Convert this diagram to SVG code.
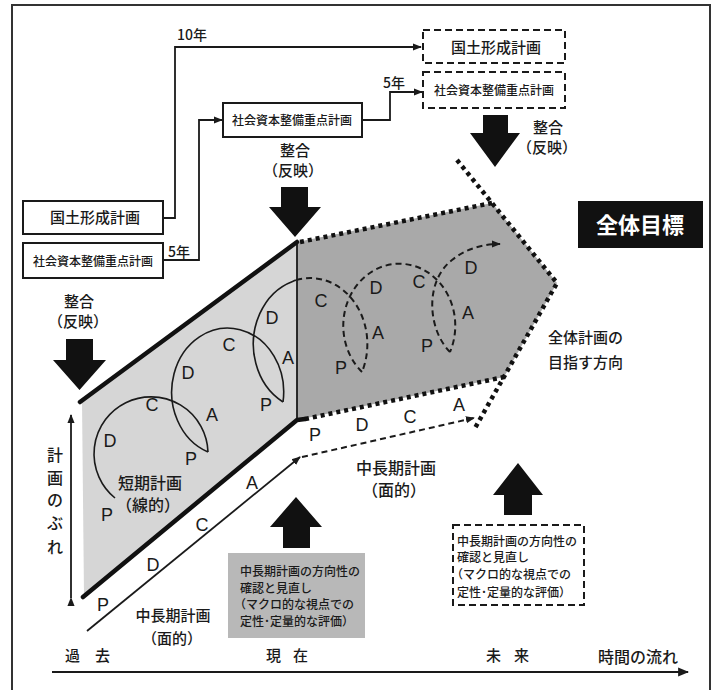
<svg xmlns="http://www.w3.org/2000/svg" width="717" height="690" viewBox="0 0 717 690">
<style>
.jp{font-family:"Noto Sans CJK JP","Liberation Sans",sans-serif;fill:#1a1a1a;font-weight:500}
.lt{font-family:"Liberation Sans",Arial,sans-serif;fill:#1a1a1a}
.halt{font-feature-settings:"halt"}
.box{fill:#fff;stroke:#1a1a1a;stroke-width:2}
.dbox{fill:#fff;stroke:#1a1a1a;stroke-width:2;stroke-dasharray:7 4}
.ln{fill:none;stroke:#1a1a1a;stroke-width:1.8}
.thick{fill:none;stroke:#111;stroke-width:4.5;stroke-linecap:round;stroke-linejoin:round}
.dot{fill:none;stroke:#111;stroke-width:4.5;stroke-dasharray:4 4}
.loop{fill:none;stroke:#1a1a1a;stroke-width:1.6}
.dloop{fill:none;stroke:#1a1a1a;stroke-width:2;stroke-dasharray:6 4}
.blk{fill:#111}
.pdca{font-family:"Liberation Sans",Arial,sans-serif;fill:#1a1a1a;font-size:18px;text-anchor:middle}
</style>
<defs>
<marker id="ah" viewBox="0 0 10 10" refX="9" refY="5" markerWidth="9" markerHeight="9" markerUnits="userSpaceOnUse" orient="auto"><path d="M0,1 L10,5 L0,9 z" fill="#1a1a1a"/></marker>
<marker id="ah2" viewBox="0 0 10 10" refX="9" refY="5" markerWidth="11" markerHeight="11" markerUnits="userSpaceOnUse" orient="auto"><path d="M0,1 L10,5 L0,9 z" fill="#1a1a1a"/></marker>
<clipPath id="cl"><rect x="0" y="0" width="296" height="690"/></clipPath>
<clipPath id="cd"><rect x="296" y="0" width="421" height="690"/></clipPath>
</defs>

<rect x="0" y="0" width="717" height="690" fill="#fff"/>
<rect id="frame" x="12" y="5" width="698" height="690" fill="none" stroke="#333" stroke-width="2"/>

<!-- regions -->
<g id="short-region">
<polygon points="82,401 297,242 297,420 84,596" fill="#d6d6d6"/>
</g>
<g id="future-region">
<polygon points="297,242 492,203 557,283 504,377 297,420" fill="#a9a9a9"/>
</g>

<!-- connectors -->
<g id="connectors">
<path class="ln" d="M163,218 H175 V47 H421" marker-end="url(#ah)"/>
<path class="ln" d="M163,260 H199 V120 H222" marker-end="url(#ah)"/>
<path class="ln" d="M362,120 H390 V92 H422" marker-end="url(#ah)"/>
<line x1="297" y1="242" x2="297" y2="420" stroke="#1a1a1a" stroke-width="1.8"/>
<path class="thick" d="M80,402 L297,242"/>
<path class="thick" d="M83,597 L297,420 L305,419"/>
<path class="dot" d="M300,242 L492,203"/>
<path class="dot" d="M457,160 L557,283 L475,428"/>
<path class="dot" d="M305,419 L504,377"/>
<path class="ln" d="M87,631 L300,457" stroke-width="1.5" marker-end="url(#ah)"/>
<path class="dloop" d="M302,457 L474,418" stroke-width="1.6" marker-end="url(#ah)"/>
<path class="ln" d="M71,598 L71,415" marker-end="url(#ah)" marker-start="url(#ah)" stroke-width="1.5"/>
<path class="ln" d="M52,672 L688,672" stroke-width="2" marker-end="url(#ah2)"/>
<!-- PDCA loops -->
<path class="loop" d="M115,498 A57,57 0 1 1 208,452"/>
<path class="loop" d="M208,452 A56,64 0 1 1 283,402"/>
<path class="loop" clip-path="url(#cl)" d="M283,402 A57,66 0 1 1 362,372"/>
<path class="dloop" clip-path="url(#cd)" d="M283,402 A57,66 0 1 1 362,372"/>
<path class="dloop" d="M362,372 A56,62 0 1 1 450,352"/>
<path class="dloop" d="M450,352 C428,330 424,282 452,260 C466,249 482,244 500,244" marker-end="url(#ah)"/>
</g>

<!-- boxes -->
<g id="left-kokudo">
<rect class="box" x="23" y="201" width="140" height="33"/>
<text class="jp" x="95" y="223" font-size="15" text-anchor="middle">国土形成計画</text>
</g>
<g id="left-shakai">
<rect class="box" x="23" y="243" width="140" height="35"/>
<text class="jp" x="93" y="265.5" font-size="12" text-anchor="middle">社会資本整備重点計画</text>
</g>
<g id="mid-shakai">
<rect class="box" x="223" y="103" width="139" height="34"/>
<text class="jp" x="292" y="124.5" font-size="12" text-anchor="middle">社会資本整備重点計画</text>
</g>
<g id="right-kokudo">
<rect class="dbox" x="423" y="30" width="142" height="33"/>
<text class="jp" x="496" y="52.5" font-size="15" text-anchor="middle">国土形成計画</text>
</g>
<g id="right-shakai">
<rect class="dbox" x="423" y="72" width="142" height="36"/>
<text class="jp" x="494" y="94.5" font-size="12" text-anchor="middle">社会資本整備重点計画</text>
</g>

<g id="year-labels">
<text class="jp" x="177" y="40" font-size="14">10年</text>
<text class="jp" x="168" y="257" font-size="14">5年</text>
<text class="jp" x="383" y="88" font-size="14">5年</text>
</g>

<!-- arrows -->
<g id="arrow-left">
<polygon class="blk" points="66,339 93,339 93,360 106,360 79.5,390 53,360 66,360"/>
<text class="jp" x="79" y="307" font-size="15" text-anchor="middle">整合</text>
<text class="jp halt" x="78" y="327" font-size="15" text-anchor="middle">（反映）</text>
</g>
<g id="arrow-mid">
<polygon class="blk" points="281,187 308,187 308,207 321,207 295,237 269,207 281,207"/>
<text class="jp" x="295" y="156" font-size="15" text-anchor="middle">整合</text>
<text class="jp halt" x="293" y="176" font-size="15" text-anchor="middle">（反映）</text>
</g>
<g id="arrow-right">
<polygon class="blk" points="483,115 508,115 508,133 520,133 495,167 470,133 483,133"/>
<text class="jp" x="548" y="133" font-size="15" text-anchor="middle">整合</text>
<text class="jp halt" x="547" y="153" font-size="15" text-anchor="middle">（反映）</text>
</g>

<g id="goal">
<rect x="578" y="201" width="125" height="47" fill="#111"/>
<text x="640" y="233" font-size="22" font-weight="bold" text-anchor="middle" fill="#fff" font-family="Noto Sans CJK JP, sans-serif">全体目標</text>
</g>
<g id="direction">
<text class="jp" x="548" y="343" font-size="15">全体計画の</text>
<text class="jp" x="548" y="368" font-size="15">目指す方向</text>
</g>

<g id="labels">
<text class="jp" x="150" y="489" font-size="16" text-anchor="middle">短期計画</text>
<text class="jp halt" x="148" y="511" font-size="16" text-anchor="middle">（線的）</text>
<text class="jp" x="173" y="621" font-size="15" text-anchor="middle">中長期計画</text>
<text class="jp halt" x="172" y="644" font-size="15" text-anchor="middle">（面的）</text>
<text class="jp" x="396" y="474" font-size="16" text-anchor="middle">中長期計画</text>
<text class="jp halt" x="394" y="496" font-size="16" text-anchor="middle">（面的）</text>
<text class="jp" font-size="16" text-anchor="middle"><tspan x="55" y="461">計</tspan><tspan x="55" y="484">画</tspan><tspan x="55" y="506">の</tspan><tspan x="55" y="529">ぶ</tspan><tspan x="55" y="553">れ</tspan></text>
</g>

<g id="pdca-labels">
<text class="pdca" x="107" y="521">P</text>
<text class="pdca" x="110" y="447">D</text>
<text class="pdca" x="152" y="411">C</text>
<text class="pdca" x="212" y="421">A</text>
<text class="pdca" x="191" y="465">P</text>
<text class="pdca" x="188" y="379">D</text>
<text class="pdca" x="229" y="351">C</text>
<text class="pdca" x="288" y="364">A</text>
<text class="pdca" x="266" y="411">P</text>
<text class="pdca" x="272" y="324">D</text>
<text class="pdca" x="321" y="307">C</text>
<text class="pdca" x="376" y="294">D</text>
<text class="pdca" x="378" y="339">A</text>
<text class="pdca" x="341" y="374">P</text>
<text class="pdca" x="419" y="288">C</text>
<text class="pdca" x="471" y="274">D</text>
<text class="pdca" x="468" y="319">A</text>
<text class="pdca" x="427" y="352">P</text>
<text class="pdca" x="103" y="611" font-size="20">P</text>
<text class="pdca" x="153" y="571" font-size="20">D</text>
<text class="pdca" x="202" y="531" font-size="20">C</text>
<text class="pdca" x="252" y="489" font-size="20">A</text>
<text class="pdca" x="315" y="441" font-size="19">P</text>
<text class="pdca" x="362" y="431" font-size="19">D</text>
<text class="pdca" x="410" y="423" font-size="19">C</text>
<text class="pdca" x="459" y="411" font-size="19">A</text>
</g>

<g id="review-now">
<polygon class="blk" points="296,497 322,527 310,527 310,548 283,548 283,527 270,527"/>
<rect x="228" y="553" width="137" height="85" fill="#b8b8b8"/>
<text class="jp" font-size="12"><tspan x="240" y="576">中長期計画の方向性の</tspan><tspan x="240" y="593">確認と見直し</tspan><tspan class="halt" x="240" y="609">（マクロ的な視点での</tspan><tspan x="240" y="626">定性･定量的な評価）</tspan></text>
</g>
<g id="review-future">
<polygon class="blk" points="518,463 543,495 532,495 532,515 504,515 504,495 493,495"/>
<rect class="dbox" x="453" y="525" width="131" height="80"/>
<text class="jp" font-size="12"><tspan x="457" y="546">中長期計画の方向性の</tspan><tspan x="457" y="562">確認と見直し</tspan><tspan class="halt" x="457" y="579">（マクロ的な視点での</tspan><tspan x="457" y="597">定性･定量的な評価）</tspan></text>
</g>

<g id="axis-labels">
<text class="jp" x="65" y="661" font-size="15" letter-spacing="15">過去</text>
<text class="jp" x="266" y="661" font-size="15" letter-spacing="12">現在</text>
<text class="jp" x="486" y="661" font-size="15" letter-spacing="13">未来</text>
<text class="jp" x="598" y="663" font-size="16">時間の流れ</text>
</g>
</svg>
